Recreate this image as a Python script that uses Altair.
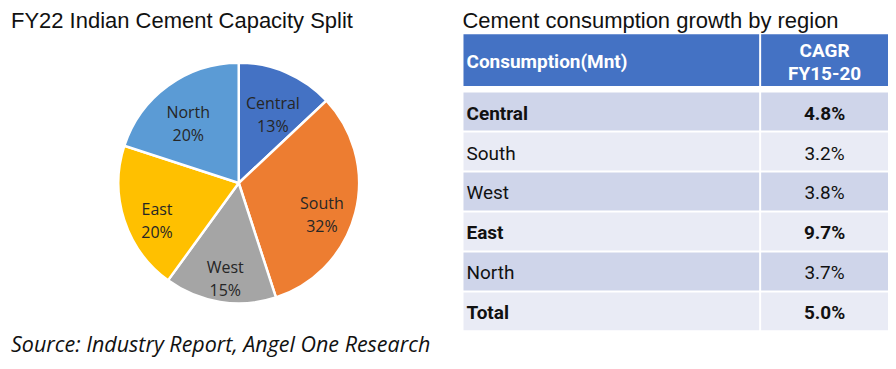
import altair as alt
import pandas as pd

# ---------------- data ----------------
regions = ["Central", "South", "West", "East", "North"]
capacity_share = [13, 32, 15, 20, 20]
pie_colors = ["#4472C4", "#ED7D31", "#A5A5A5", "#FFC000", "#5B9BD5"]

table_rows = ["Central", "South", "West", "East", "North", "Total"]
cagr = [4.8, 3.2, 3.8, 9.7, 3.7, 5.0]
bold_rows = ["Central", "East", "Total"]

left_title = "FY22 Indian Cement Capacity Split"
right_title = "Cement consumption growth by region"
source_note = "Source: Industry Report, Angel One Research"
header_left = "Consumption(Mnt)"
header_right = ["CAGR", "FY15-20"]

# ---------------- layout constants ----------------
LW, RW, H = 455, 425, 353
PIE_CX, PIE_CY, PIE_R = 231, 175, 120.5
COL1_END, COL2_START = 296, 298
HEAD_TOP, HEAD_BOT = 26, 78
ROW0, PITCH, ROW_H = 84.5, 40, 38

TITLE_FONT = "Liberation Sans"
SOURCE_FONT = "Open Sans"
TABLE_FONT = "Roboto"
TEXT_COLOR = "#111111"

# ---------------- pie ----------------
pie_df = pd.DataFrame({
    "region": regions,
    "share": capacity_share,
    "order": list(range(len(regions))),
})
pie_df["label"] = [f"{r}\n{s}%" for r, s in zip(regions, capacity_share)]

arc = alt.Chart(pie_df).mark_arc(radius=PIE_R, stroke="white", strokeWidth=2.5).encode(
    theta=alt.Theta("share:Q", stack=True),
    order=alt.Order("order:Q"),
    color=alt.Color("region:N", scale=alt.Scale(domain=regions, range=pie_colors), legend=None),
    x=alt.value(PIE_CX),
    y=alt.value(PIE_CY),
)

pie_labels = alt.Chart(pie_df).mark_text(
    radius=86, fontSize=16, lineBreak="\n", lineHeight=23, font="Open Sans", color="#262626",
    align="center", baseline="middle",
).encode(
    theta=alt.Theta("share:Q", stack=True),
    order=alt.Order("order:Q"),
    text="label:N",
    x=alt.value(PIE_CX),
    y=alt.value(PIE_CY),
)

ltitle = alt.Chart(pd.DataFrame({"t": [left_title]})).mark_text(
    align="left", baseline="alphabetic", fontSize=22, font=TITLE_FONT, color=TEXT_COLOR
).encode(text="t:N", x=alt.value(3), y=alt.value(20))

source = alt.Chart(pd.DataFrame({"t": [source_note]})).mark_text(
    align="left", baseline="alphabetic", fontSize=21.5, font=SOURCE_FONT, fontStyle="italic",
    color=TEXT_COLOR
).encode(text="t:N", x=alt.value(3), y=alt.value(344))

left = alt.layer(arc, pie_labels, ltitle, source).properties(width=LW, height=H)

# ---------------- table ----------------
cells = []
cells.append({"x0": 0, "x1": COL1_END, "y0": HEAD_TOP, "y1": HEAD_BOT, "kind": "header"})
cells.append({"x0": COL2_START, "x1": RW, "y0": HEAD_TOP, "y1": HEAD_BOT, "kind": "header"})
for i, r in enumerate(table_rows):
    y0 = ROW0 + PITCH * i
    kind = "dark" if i % 2 == 0 else "light"
    cells.append({"x0": 0, "x1": COL1_END, "y0": y0, "y1": y0 + ROW_H, "kind": kind})
    cells.append({"x0": COL2_START, "x1": RW, "y0": y0, "y1": y0 + ROW_H, "kind": kind})
cells_df = pd.DataFrame(cells)

xs = alt.Scale(domain=[0, RW], nice=False, zero=False)
ys = alt.Scale(domain=[0, H], nice=False, zero=False, reverse=True)

rects = alt.Chart(cells_df).mark_rect().encode(
    x=alt.X("x0:Q", scale=xs, axis=None),
    x2="x1:Q",
    y=alt.Y("y0:Q", scale=ys, axis=None),
    y2="y1:Q",
    color=alt.Color("kind:N", scale=alt.Scale(domain=["header", "dark", "light"],
                                               range=["#4472C4", "#CFD5EA", "#E9EBF5"]), legend=None),
)

txt_rows = []
for i, (r, v) in enumerate(zip(table_rows, cagr)):
    yc = ROW0 + PITCH * i + ROW_H / 2
    txt_rows.append({"row": r, "val": f"{v:.1f}%", "xl": 3, "xv": (COL2_START + RW) / 2, "yc": yc,
                     "bold": r in bold_rows})
txt_df = pd.DataFrame(txt_rows)

def row_text(field, xfield, align, bold):
    return alt.Chart(txt_df).transform_filter(
        alt.datum.bold if bold else ~alt.datum.bold
    ).mark_text(
        align=align, baseline="middle", fontSize=19, font=TABLE_FONT, dy=2,
        fontWeight="bold" if bold else "normal", color=TEXT_COLOR,
    ).encode(
        x=alt.X(f"{xfield}:Q", scale=xs, axis=None),
        y=alt.Y("yc:Q", scale=ys, axis=None),
        text=f"{field}:N",
    )

head_mid = (HEAD_TOP + HEAD_BOT) / 2
head_df = pd.DataFrame({
    "t": [header_left] + header_right,
    "x": [3, (COL2_START + RW) / 2, (COL2_START + RW) / 2],
    "y": [head_mid, head_mid - 11.5, head_mid + 11.5],
})
head_l = alt.Chart(head_df.iloc[[0]]).mark_text(
    align="left", baseline="middle", fontSize=19, fontWeight="bold", font=TABLE_FONT, color="white", dy=2
).encode(x=alt.X("x:Q", scale=xs, axis=None), y=alt.Y("y:Q", scale=ys, axis=None), text="t:N")
head_r = alt.Chart(head_df.iloc[[1, 2]]).mark_text(
    align="center", baseline="middle", fontSize=19, fontWeight="bold", font=TABLE_FONT, color="white", dy=2
).encode(x=alt.X("x:Q", scale=xs, axis=None), y=alt.Y("y:Q", scale=ys, axis=None), text="t:N")

rtitle = alt.Chart(pd.DataFrame({"t": [right_title]})).mark_text(
    align="left", baseline="alphabetic", fontSize=22, font=TITLE_FONT, color=TEXT_COLOR
).encode(text="t:N", x=alt.value(-1), y=alt.value(20))

right = alt.layer(
    rects,
    row_text("row", "xl", "left", False), row_text("row", "xl", "left", True),
    row_text("val", "xv", "center", False), row_text("val", "xv", "center", True),
    head_l, head_r, rtitle,
).properties(width=RW, height=H)

chart = alt.hconcat(left, right, spacing=0, padding=0).resolve_scale(
    color="independent"
).configure_view(stroke=None)

chart.save("out.html", embed_options={"renderer": "svg", "actions": False})
